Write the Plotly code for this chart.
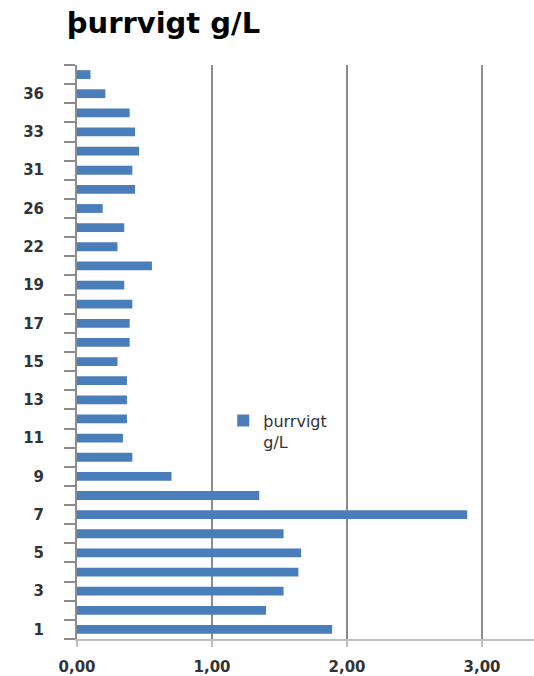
import plotly.graph_objects as go

categories = ["1", "2", "3", "4", "5", "6", "7", "8", "9", "10",
              "11", "12", "13", "14", "15", "16", "17", "18", "19", "21",
              "22", "24", "26", "28", "31", "32", "33", "34", "36", "37"]
values = [1.89, 1.40, 1.53, 1.64, 1.66, 1.53, 2.89, 1.35, 0.70, 0.41,
          0.34, 0.37, 0.37, 0.37, 0.30, 0.39, 0.39, 0.41, 0.35, 0.555,
          0.30, 0.35, 0.19, 0.43, 0.41, 0.46, 0.43, 0.39, 0.21, 0.10]
series_name = "þurrvigt g/L"
x_tickvals = [0, 1, 2, 3]
x_ticktext = ["0,00", "1,00", "2,00", "3,00"]

pos = list(range(len(categories)))
label_idx = pos[::2]

fig = go.Figure()
fig.add_trace(go.Bar(
    x=values, y=pos, orientation="h", width=0.46,
    marker=dict(color="#4A7EBB", line=dict(width=0)),
    name="þurrvigt<br>g/L", showlegend=True,
))

grid = "#8C8C8C"
fig.update_layout(
    width=534, height=676,
    margin=dict(l=77, r=0, t=64.5, b=33.5),
    paper_bgcolor="white", plot_bgcolor="white",
    title=dict(text="<b>" + series_name + "</b>", xref="container", yref="container",
               x=0.125, xanchor="left", y=1 - 23 / 676, yanchor="middle",
               font=dict(family="DejaVu Sans", size=29, color="#000000")),
    font=dict(family="DejaVu Sans", color="#222222"),
    bargap=0.5,
    legend=dict(x=0.32, y=0.41, xanchor="left", yanchor="top",
                bgcolor="rgba(0,0,0,0)", valign="top",
                font=dict(family="DejaVu Sans", size=16, color="#333333"),
                itemwidth=30),
    xaxis=dict(range=[0, 3.385], tickmode="array", tickvals=x_tickvals, ticktext=x_ticktext,
               showgrid=True, gridcolor=grid, gridwidth=2, zeroline=False,
               showline=True, linecolor="#BFBFBF", linewidth=2,
               ticks="outside", ticklen=6, tickcolor="#BFBFBF", tickwidth=2,
               ticklabelstandoff=7,
               tickfont=dict(family="DejaVu Sans", size=15, color="#333333", weight="bold")),
    yaxis=dict(range=[-0.5, len(categories) - 0.5], tickmode="array",
               tickvals=label_idx, ticktext=[categories[i] for i in label_idx],
               showgrid=False, zeroline=False,
               showline=True, linecolor=grid, linewidth=2,
               ticks="", ticklabelstandoff=28,
               minor=dict(ticks="outside", tick0=-0.5, dtick=1, ticklen=11,
                          tickcolor=grid, tickwidth=1.5, showgrid=False),
               tickfont=dict(family="DejaVu Sans", size=15, color="#333333", weight="bold")),
)

fig.write_html("out.html", config={"displayModeBar": False},
               post_script="document.body.style.margin='0';document.body.style.overflow='hidden';")
